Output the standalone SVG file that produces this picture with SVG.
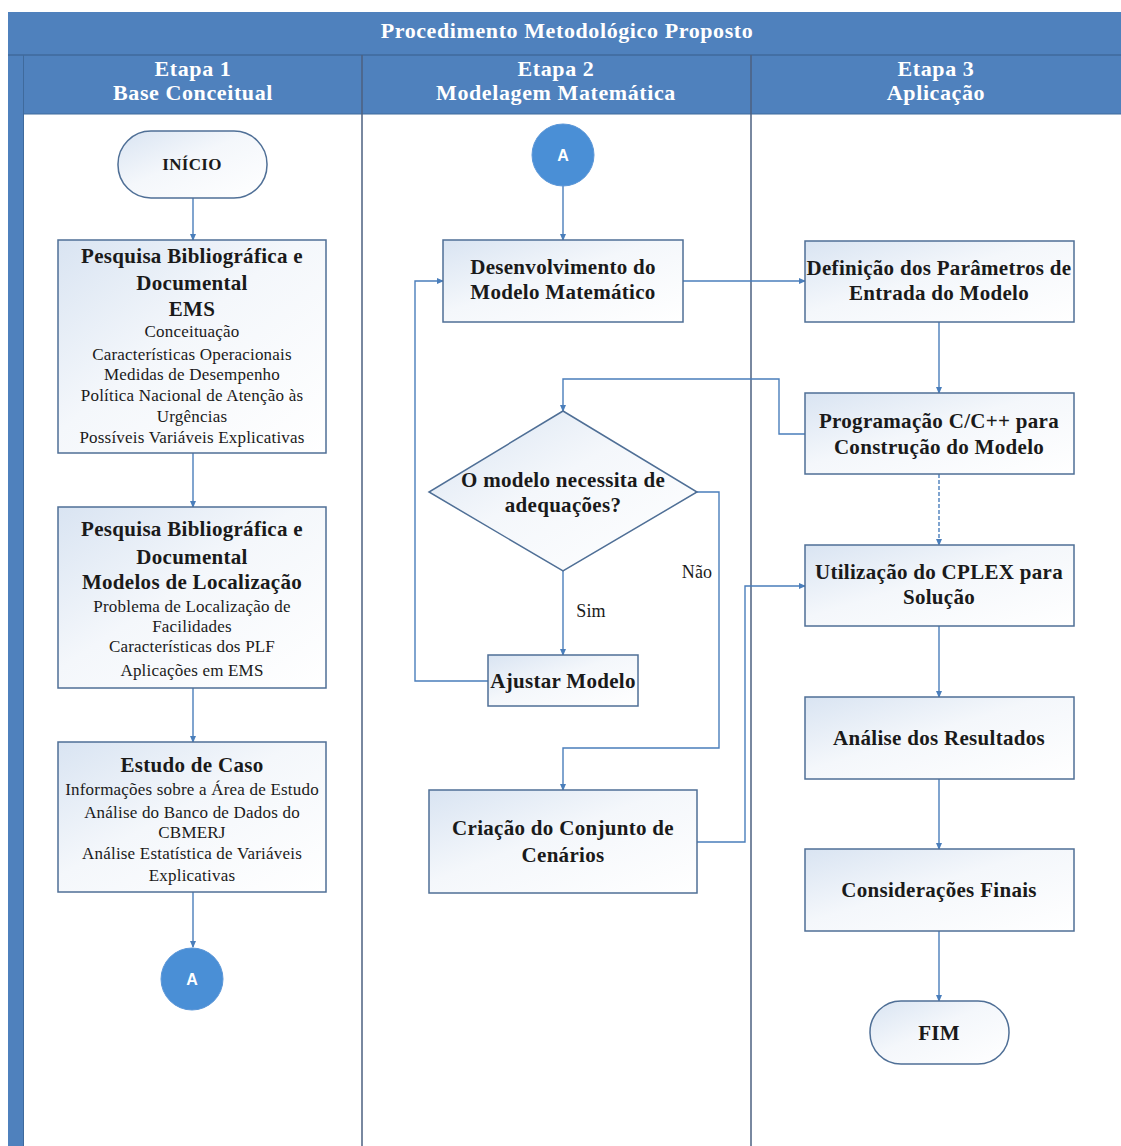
<svg xmlns="http://www.w3.org/2000/svg" width="1121" height="1146" viewBox="0 0 1121 1146">
<defs>
<linearGradient id="boxg" x1="0" y1="0" x2="1" y2="1">
<stop offset="0" stop-color="#d9e4f2"/>
<stop offset="0.45" stop-color="#f4f7fb"/>
<stop offset="1" stop-color="#ffffff"/>
</linearGradient>
<marker id="arr" markerWidth="7" markerHeight="7" refX="6" refY="3.5" orient="auto" markerUnits="userSpaceOnUse">
<path d="M0,0.5 L7,3.5 L0,6.5 z" fill="#4a7ebb"/>
</marker>
</defs>
<style>
.box{fill:url(#boxg);stroke:#4f6f96;stroke-width:1.5}
.term{fill:url(#boxg);stroke:#4f6f96;stroke-width:1.5}
.conn{fill:none;stroke:#4a7ebb;stroke-width:1.4}
.lane{stroke:#4d6180;stroke-width:1.5}
.t{font-family:"Liberation Serif",serif;font-weight:bold;font-size:21px;letter-spacing:0.3px;fill:#1a1a1a;text-anchor:middle}
.s{font-family:"Liberation Serif",serif;font-size:17px;letter-spacing:0.2px;fill:#1a1a1a;text-anchor:middle}
.h{font-family:"Liberation Serif",serif;font-weight:bold;font-size:22px;letter-spacing:0.6px;fill:#ffffff;text-anchor:middle}
.c{fill:#4a8fd6;stroke:#5c97d8;stroke-width:1}
.ct{font-family:"Liberation Sans",sans-serif;font-weight:bold;font-size:16px;fill:#ffffff;text-anchor:middle}
</style>
<rect width="1121" height="1146" fill="#ffffff"/>
<g id="header">
<rect x="8" y="12" width="1113" height="102" fill="#4f81bd"/>
<rect x="8" y="114" width="15" height="1032" fill="#4f81bd"/>
<line x1="8" y1="55" x2="1121" y2="55" stroke="#3f6a9c" stroke-width="1.5"/>
<line x1="23.5" y1="55" x2="23.5" y2="1146" stroke="#3f6a9c" stroke-width="1"/>
<line x1="23" y1="114" x2="1121" y2="114" stroke="#3f6a9c" stroke-width="1"/>
<line class="lane" x1="362" y1="55" x2="362" y2="1146"/>
<line class="lane" x1="751" y1="55" x2="751" y2="1146"/>
<text class="h" x="567" y="38">Procedimento Metodológico Proposto</text>
<text class="h" x="193" y="76">Etapa 1</text>
<text class="h" x="193" y="100">Base Conceitual</text>
<text class="h" x="556" y="76">Etapa 2</text>
<text class="h" x="556" y="100">Modelagem Matemática</text>
<text class="h" x="936" y="76">Etapa 3</text>
<text class="h" x="936" y="100">Aplicação</text>
</g>
<g id="connectors">
<line class="conn" x1="193" y1="198" x2="193" y2="240" marker-end="url(#arr)"/>
<line class="conn" x1="193" y1="453" x2="193" y2="507" marker-end="url(#arr)"/>
<line class="conn" x1="193" y1="688" x2="193" y2="742" marker-end="url(#arr)"/>
<line class="conn" x1="193" y1="892" x2="193" y2="947" marker-end="url(#arr)"/>
<line class="conn" x1="563" y1="186" x2="563" y2="240" marker-end="url(#arr)"/>
<line class="conn" x1="683" y1="281" x2="805" y2="281" marker-end="url(#arr)"/>
<polyline class="conn" points="805,434 779,434 779,379 563,379 563,411" marker-end="url(#arr)"/>
<line class="conn" x1="563" y1="571" x2="563" y2="655" marker-end="url(#arr)"/>
<polyline class="conn" points="488,681 415,681 415,281 443,281" marker-end="url(#arr)"/>
<polyline class="conn" points="697,492 719,492 719,748 563,748 563,790" marker-end="url(#arr)"/>
<polyline class="conn" points="697,842 745,842 745,586 805,586" marker-end="url(#arr)"/>
<line class="conn" x1="939" y1="322" x2="939" y2="393" marker-end="url(#arr)"/>
<line class="conn" x1="939" y1="474" x2="939" y2="545" stroke-dasharray="4,2" marker-end="url(#arr)"/>
<line class="conn" x1="939" y1="626" x2="939" y2="697" marker-end="url(#arr)"/>
<line class="conn" x1="939" y1="779" x2="939" y2="849" marker-end="url(#arr)"/>
<line class="conn" x1="939" y1="931" x2="939" y2="1001" marker-end="url(#arr)"/>
<text class="s" x="697" y="578" style="font-size:18px">Não</text>
<text class="s" x="591" y="617" style="font-size:18px">Sim</text>
</g>
<g id="inicio">
<rect class="term" x="118" y="131" width="149" height="67" rx="33" ry="33"/>
<text class="t" x="192" y="170" style="font-size:17px">INÍCIO</text>
</g>
<g id="pesquisa-ems">
<rect class="box" x="58" y="240" width="268" height="213"/>
<text class="t" x="192" y="263">Pesquisa Bibliográfica e</text>
<text class="t" x="192" y="290">Documental</text>
<text class="t" x="192" y="316">EMS</text>
<text class="s" x="192" y="337">Conceituação</text>
<text class="s" x="192" y="360">Características Operacionais</text>
<text class="s" x="192" y="380">Medidas de Desempenho</text>
<text class="s" x="192" y="401">Política Nacional de Atenção às</text>
<text class="s" x="192" y="422">Urgências</text>
<text class="s" x="192" y="443">Possíveis Variáveis Explicativas</text>
</g>
<g id="pesquisa-loc">
<rect class="box" x="58" y="507" width="268" height="181"/>
<text class="t" x="192" y="536">Pesquisa Bibliográfica e</text>
<text class="t" x="192" y="564">Documental</text>
<text class="t" x="192" y="589">Modelos de Localização</text>
<text class="s" x="192" y="612">Problema de Localização de</text>
<text class="s" x="192" y="632">Facilidades</text>
<text class="s" x="192" y="652">Características dos PLF</text>
<text class="s" x="192" y="676">Aplicações em EMS</text>
</g>
<g id="estudo">
<rect class="box" x="58" y="742" width="268" height="150"/>
<text class="t" x="192" y="772">Estudo de Caso</text>
<text class="s" x="192" y="795">Informações sobre a Área de Estudo</text>
<text class="s" x="192" y="818">Análise do Banco de Dados do</text>
<text class="s" x="192" y="838">CBMERJ</text>
<text class="s" x="192" y="859">Análise Estatística de Variáveis</text>
<text class="s" x="192" y="881">Explicativas</text>
</g>
<g id="conector-a1">
<circle class="c" cx="192" cy="979" r="31"/>
<text class="ct" x="192" y="985">A</text>
</g>
<g id="conector-a2">
<circle class="c" cx="563" cy="155" r="31"/>
<text class="ct" x="563" y="161">A</text>
</g>
<g id="desenvolvimento">
<rect class="box" x="443" y="240" width="240" height="82"/>
<text class="t" x="563" y="274">Desenvolvimento do</text>
<text class="t" x="563" y="299">Modelo Matemático</text>
</g>
<g id="decisao">
<polygon class="box" points="563,411 697,492 563,571 429,492"/>
<text class="t" x="563" y="487">O modelo necessita de</text>
<text class="t" x="563" y="512">adequações?</text>
</g>
<g id="ajustar">
<rect class="box" x="488" y="655" width="150" height="51"/>
<text class="t" x="563" y="688">Ajustar Modelo</text>
</g>
<g id="criacao">
<rect class="box" x="429" y="790" width="268" height="103"/>
<text class="t" x="563" y="835">Criação do Conjunto de</text>
<text class="t" x="563" y="862">Cenários</text>
</g>
<g id="definicao">
<rect class="box" x="805" y="241" width="269" height="81"/>
<text class="t" x="939" y="275">Definição dos Parâmetros de</text>
<text class="t" x="939" y="300">Entrada do Modelo</text>
</g>
<g id="programacao">
<rect class="box" x="805" y="393" width="269" height="81"/>
<text class="t" x="939" y="428">Programação C/C++ para</text>
<text class="t" x="939" y="454">Construção do Modelo</text>
</g>
<g id="utilizacao">
<rect class="box" x="805" y="545" width="269" height="81"/>
<text class="t" x="939" y="579">Utilização do CPLEX para</text>
<text class="t" x="939" y="604">Solução</text>
</g>
<g id="analise">
<rect class="box" x="805" y="697" width="269" height="82"/>
<text class="t" x="939" y="745">Análise dos Resultados</text>
</g>
<g id="consideracoes">
<rect class="box" x="805" y="849" width="269" height="82"/>
<text class="t" x="939" y="897">Considerações Finais</text>
</g>
<g id="fim">
<rect class="term" x="870" y="1001" width="139" height="63" rx="31" ry="31"/>
<text class="t" x="939" y="1040">FIM</text>
</g>
</svg>
